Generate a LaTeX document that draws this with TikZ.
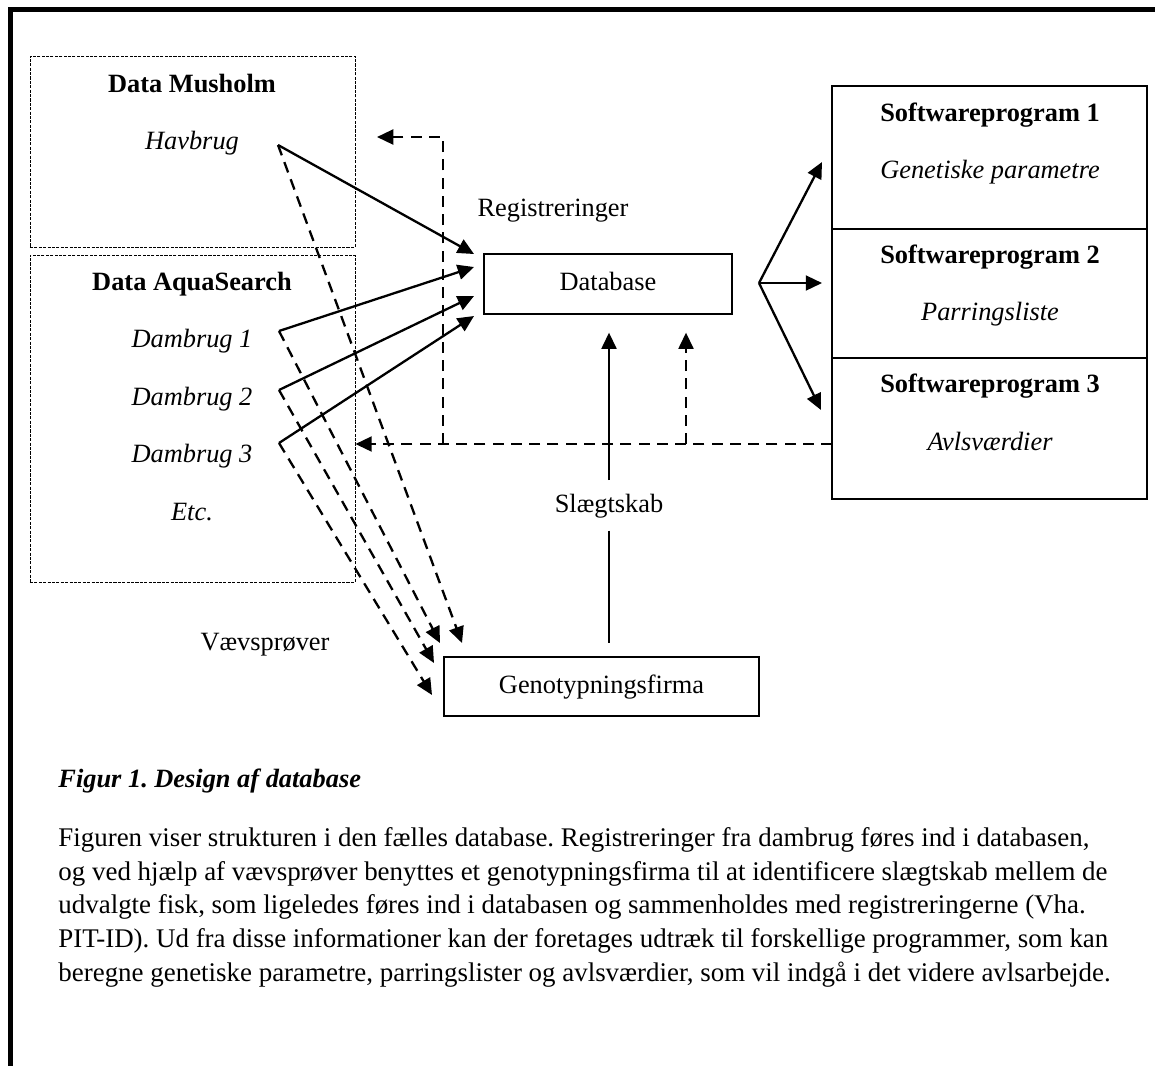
\documentclass[tikz,border=0pt]{standalone}
\usepackage{fontspec}
\setmainfont{Liberation Serif}
\usetikzlibrary{arrows.meta,positioning}
\frenchspacing

\begin{document}
\begin{tikzpicture}[x=0.455pt,y=-0.455pt,node distance=26.2pt,on grid,
    font=\fontsize{12pt}{14pt}\selectfont,
    >={Triangle[length=7.4pt,width=6.8pt]}]
  % boxes, labels and connectors
  \tikzstyle{nodeDot}=[rectangle,draw,line width=0.4pt,dash pattern=on 1.4pt off 0.6pt,inner sep=0pt]
  \tikzstyle{nodeBox}=[rectangle,draw,line width=0.55pt,inner sep=0pt,text height=8.5pt,text depth=2.5pt]
  \tikzstyle{nodeTxt}=[inner sep=0pt,text height=8.5pt,text depth=2.5pt]
  \tikzstyle{nodeHead}=[nodeTxt,font=\fontsize{12pt}{14pt}\selectfont\bfseries]
  \tikzstyle{nodeItem}=[nodeTxt,font=\fontsize{12pt}{14pt}\selectfont\itshape]
  \tikzstyle{conn}=[line width=1.05pt]
  \tikzstyle{dconn}=[conn,dash pattern=on 5pt off 3.3pt]

  \useasboundingbox (0,0) rectangle (1155,1065);
  \draw[line width=2.3pt] (10.5,1075) -- (10.5,9.5) -- (1165,9.5);

  \node[nodeDot,minimum width=147.9pt,minimum height=86.9pt]  (d_mus)  at (192.5,151.5) {};
  \node[nodeDot,minimum width=147.9pt,minimum height=148.8pt] (d_aqua) at (192.5,418.5) {};

  \node[nodeHead] (t_mus)  at (192,85.4) {Data Musholm};
  \node[nodeItem] (t_hav)  [below=of t_mus]   {Havbrug};
  \node[nodeHead] (t_aqua) at (192,283.4) {Data AquaSearch};
  \node[nodeItem] (t_dam1) [below=of t_aqua]  {Dambrug 1};
  \node[nodeItem] (t_dam2) [below=of t_dam1]  {Dambrug 2};
  \node[nodeItem] (t_dam3) [below=of t_dam2]  {Dambrug 3};
  \node[nodeItem] (t_etc)  [below=of t_dam3]  {Etc.};

  \node[nodeBox,minimum width=112.8pt,minimum height=27.3pt] (d_db)   at (608,284)   {Database};
  \node[nodeBox,minimum width=143.3pt,minimum height=26.8pt] (d_geno) at (601.5,686.5) {Genotypningsfirma};

  \node[nodeBox,minimum width=143.3pt,minimum height=65.1pt] (d_sw1) at (989.5,157.5) {};
  \node[nodeBox,minimum width=143.3pt,minimum height=58.7pt] (d_sw2) at (989.5,293.5) {};
  \node[nodeBox,minimum width=143.3pt,minimum height=64.2pt] (d_sw3) at (989.5,428.5) {};
  \node[nodeHead] (t_sw1) at (990,114.4) {Softwareprogram 1};
  \node[nodeItem] (t_gen) [below=of t_sw1] {Genetiske parametre};
  \node[nodeHead] (t_sw2) at (990,256.5) {Softwareprogram 2};
  \node[nodeItem] (t_par) [below=of t_sw2] {Parringsliste};
  \node[nodeHead] (t_sw3) at (990,386) {Softwareprogram 3};
  \node[nodeItem] (t_avl) [below=of t_sw3] {Avlsværdier};

  \node[nodeTxt] (t_reg)  at (553,209.4) {Registreringer};
  \node[nodeTxt,inner sep=5.8pt] (t_slg) at (609,505.4) {Slægtskab};
  \node[nodeTxt] (t_vev)  at (265,643.4) {Vævsprøver};

  \coordinate (c_hav)  at (278,145);
  \coordinate (c_dam1) at (279,331);
  \coordinate (c_dam2) at (279,390);
  \coordinate (c_dam3) at (279,443);
  \coordinate (e_db1) at (474,254);
  \coordinate (e_db2) at (474,267);
  \coordinate (e_db3) at (474,296);
  \coordinate (e_db4) at (474,316);
  \coordinate (e_gen1) at (462,643);
  \coordinate (e_gen2) at (440,643);
  \coordinate (e_gen3) at (434,663);
  \coordinate (e_gen4) at (432,695);
  \coordinate (c_fan) at (759,283);
  \coordinate (e_sw1) at (822,162);
  \coordinate (e_sw2) at (822,283);
  \coordinate (e_sw3) at (821,410);
  \coordinate (c_back) at (832,444);
  \coordinate (c_up)   at (686,444);
  \coordinate (c_turn) at (443,444);
  \coordinate (e_mus)  at (377,137);

  \path[conn,->] (c_hav)  edge (e_db1);
  \path[conn,->] (c_dam1) edge (e_db2);
  \path[conn,->] (c_dam2) edge (e_db3);
  \path[conn,->] (c_dam3) edge (e_db4);
  \path[dconn,->] (c_hav)  edge (e_gen1);
  \path[dconn,->] (c_dam1) edge (e_gen2);
  \path[dconn,->] (c_dam2) edge (e_gen3);
  \path[dconn,->] (c_dam3) edge (e_gen4);
  \path[conn,->] (c_fan) edge (e_sw1);
  \path[conn,->] (c_fan) edge (e_sw2);
  \path[conn,->] (c_fan) edge (e_sw3);

  \draw[conn,shorten >=5.9pt] (t_slg.south) -- (t_slg.south |- d_geno.north);
  \draw[conn,->,shorten >=8.2pt] (t_slg.north) -- (t_slg.north |- d_db.south);

  \draw[dconn,->] (c_back) -- (c_back -| d_aqua.east);
  \draw[dconn,->,shorten >=8.2pt] (c_up) -- (c_up |- d_db.south);
  \draw[dconn,->] (c_turn) |- (e_mus);

  \node[anchor=base west,inner sep=0pt,font=\fontsize{12pt}{14pt}\selectfont\bfseries\itshape] (t_fig) at (58,787) {Figur 1. Design af database};
  \node[anchor=north west,inner sep=0pt,align=left,font=\fontsize{12.25pt}{15.33pt}\selectfont] (t_cap) at (58,827)
    {Figuren viser strukturen i den fælles database. Registreringer fra dambrug føres ind i databasen,\\
     og ved hjælp af vævsprøver benyttes et genotypningsfirma til at identificere slægtskab mellem de\\
     udvalgte fisk, som ligeledes føres ind i databasen og sammenholdes med registreringerne (Vha.\\
     PIT-ID). Ud fra disse informationer kan der foretages udtræk til forskellige programmer, som kan\\
     beregne genetiske parametre, parringslister og avlsværdier, som vil indgå i det videre avlsarbejde.};
\end{tikzpicture}
\end{document}
